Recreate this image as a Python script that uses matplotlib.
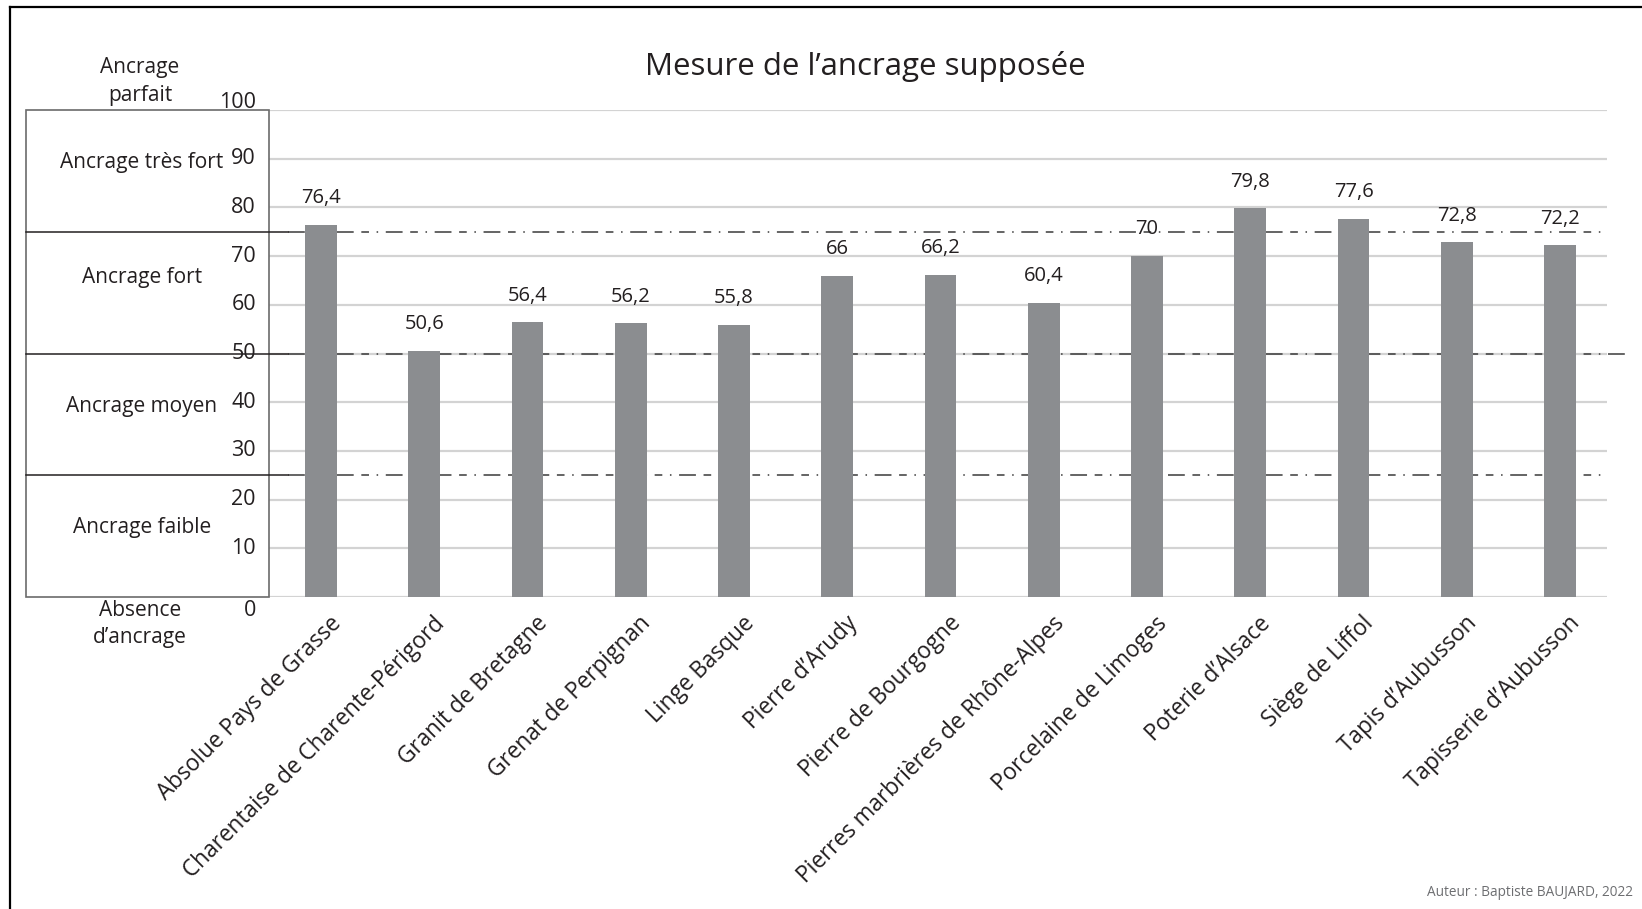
import matplotlib

matplotlib.use("Agg")
import matplotlib.pyplot as plt
from matplotlib.lines import Line2D
from matplotlib.patches import Rectangle

plt.rcParams["font.family"] = ["Open Sans", "DejaVu Sans"]

INK = "#231f20"
BAR = "#8b8d90"
GRID = "#d3d3d3"
DASH = "#3a3a3a"

produits = [
    "Absolue Pays de Grasse", "Charentaise de Charente-Périgord",
    "Granit de Bretagne", "Grenat de Perpignan", "Linge Basque",
    "Pierre d\u2019Arudy", "Pierre de Bourgogne",
    "Pierres marbrières de Rhône-Alpes", "Porcelaine de Limoges",
    "Poterie d\u2019Alsace", "Siège de Liffol", "Tapis d\u2019Aubusson",
    "Tapisserie d\u2019Aubusson",
]
ancrage = [76.4, 50.6, 56.4, 56.2, 55.8, 66, 66.2, 60.4, 70, 79.8, 77.6, 72.8, 72.2]
ticks = [0, 10, 20, 30, 40, 50, 60, 70, 80, 90, 100]
seuils = [25, 50, 75]
classes = [
    (89.3, "Ancrage très fort"),
    (65.6, "Ancrage fort"),
    (39.1, "Ancrage moyen"),
    (14.2, "Ancrage faible"),
]

W, H = 1642, 909
fig = plt.figure(figsize=(W / 100, H / 100), dpi=100)
fx = fig.transFigure


def fxp(xp):
    return xp / W


def fyp(yp):
    return 1 - yp / H


# plot area in pixels: value 0 at y=597, 100 at y=110 ; gridlines from x=269 to 1607
ax_l, ax_r, y0, y100 = 269, 1607, 597, 110
bar0, pas = 321, 103.25
xmin = (ax_l - bar0) / pas
xmax = (ax_r - bar0) / pas
ax = fig.add_axes([fxp(ax_l), fyp(y0), (ax_r - ax_l) / W, (y0 - y100) / H])
ax.set_xlim(xmin, xmax)
ax.set_ylim(0, 100)
ax.axis("off")


def ypx(v):
    return y0 - v * (y0 - y100) / 100


for t in ticks:
    ax.axhline(t, color=GRID, lw=1.6, zorder=0)

x = list(range(len(produits)))
ax.bar(x, ancrage, width=0.307, color=BAR, zorder=3)
for xi, v in zip(x, ancrage):
    ax.text(xi, v + 5.5, f"{v:g}".replace(".", ","), ha="center", va="center",
            fontsize=14.5, color=INK, zorder=4)

# seuils en tirets
x_start = (288 - bar0) / pas
for s in seuils:
    x_end = (1628 - bar0) / pas if s == 50 else xmax
    ax.plot([x_start, x_end], [s, s], color=DASH, lw=1.1,
            dashes=(11, 5, 5, 5, 1, 5), zorder=2, clip_on=False)

for xi, lab in zip(x, produits):
    ax.text(xi + 0.08, -3.0, lab, rotation=45, ha="right", va="top",
            rotation_mode="anchor", fontsize=16.3, color=INK)

# cadre des classes d'ancrage
box_l = 26
fig.patches.append(Rectangle((fxp(box_l), fyp(y0)), (ax_l - box_l) / W,
                             (y0 - y100) / H, transform=fx, fill=False,
                             ec="#6b6b6b", lw=1.2))
for s in seuils:
    yy = fyp(ypx(s))
    fig.lines.append(Line2D([fxp(box_l), fxp(288)], [yy, yy], transform=fx,
                            color=INK, lw=1.1))

for t in ticks:
    if t == 100:
        yp = ypx(t) - 8
    elif t == 0:
        yp = ypx(t) + 13
    else:
        yp = ypx(t)
    fig.text(fxp(256), fyp(yp), str(t), ha="right", va="center",
             fontsize=15.5, color=INK)

for v, lab in classes:
    fig.text(fxp(142), fyp(ypx(v)), lab, ha="center", va="center",
             fontsize=15, color=INK)
fig.text(fxp(140), fyp(67), "Ancrage", ha="center", va="center", fontsize=15, color=INK)
fig.text(fxp(140), fyp(95), "parfait", ha="center", va="center", fontsize=15, color=INK)
fig.text(fxp(140), fyp(610), "Absence", ha="center", va="center", fontsize=15, color=INK)
fig.text(fxp(140), fyp(638), "d\u2019ancrage", ha="center", va="center", fontsize=15, color=INK)

fig.text(fxp(865), fyp(75), "Mesure de l\u2019ancrage supposée", ha="center",
         va="baseline", fontsize=22.5, color=INK)
fig.text(fxp(1633), fyp(893), "Auteur : Baptiste BAUJARD, 2022", ha="right",
         va="center", fontsize=9.8, color="#6d6e71")

# cadre extérieur
fig.lines.append(Line2D([fxp(10), fxp(10)], [0, fyp(7)], transform=fx, color="black", lw=1.6))
fig.lines.append(Line2D([fxp(10), 1], [fyp(7), fyp(7)], transform=fx, color="black", lw=1.6))

fig.savefig("out.png", dpi=100, facecolor="white")
